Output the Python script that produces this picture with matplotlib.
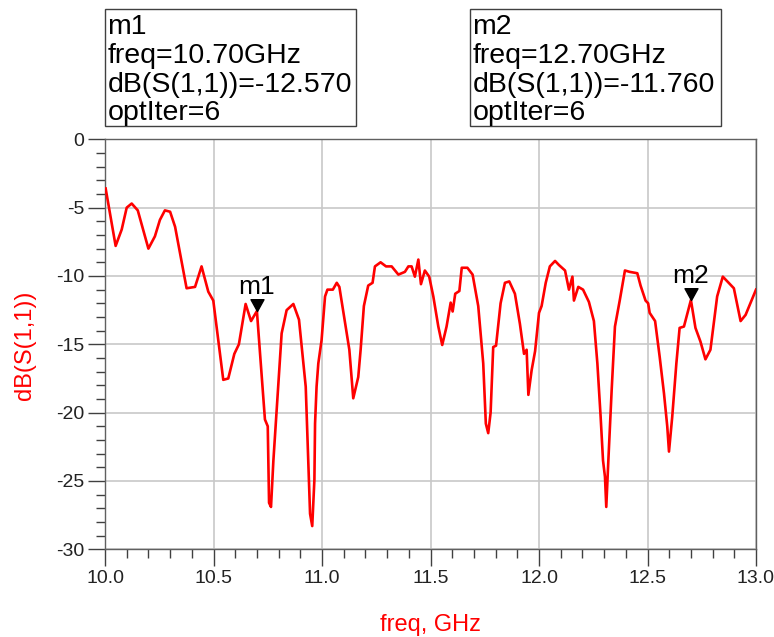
import matplotlib
matplotlib.use("Agg")
import matplotlib.pyplot as plt
from matplotlib.patches import Rectangle
from matplotlib.path import Path
from matplotlib.ticker import MultipleLocator

plt.rcParams['font.family'] = ['Liberation Sans', 'DejaVu Sans']

# ------------------------------
# Data
# ------------------------------
freq = [10.003, 10.049, 10.077, 10.100, 10.123, 10.151, 10.200, 10.230, 10.253, 10.276,
        10.300, 10.323, 10.376, 10.415, 10.445, 10.476, 10.499, 10.545, 10.568, 10.596,
        10.617, 10.648, 10.673, 10.700, 10.737, 10.750, 10.756, 10.765, 10.776, 10.814,
        10.837, 10.868, 10.894, 10.925, 10.945, 10.955, 10.965, 10.968, 10.975, 10.983,
        10.998, 11.014, 11.025, 11.050, 11.068, 11.080, 11.098, 11.126, 11.144, 11.167,
        11.178, 11.193, 11.213, 11.233, 11.244, 11.270, 11.295, 11.321, 11.352, 11.382,
        11.398, 11.413, 11.428, 11.444, 11.456, 11.474, 11.494, 11.513, 11.536, 11.554,
        11.574, 11.593, 11.602, 11.614, 11.633, 11.644, 11.670, 11.694, 11.720, 11.743,
        11.755, 11.766, 11.777, 11.789, 11.802, 11.823, 11.843, 11.863, 11.889, 11.912,
        11.931, 11.943, 11.951, 11.966, 11.982, 12.000, 12.012, 12.031, 12.050, 12.074,
        12.092, 12.120, 12.138, 12.154, 12.161, 12.181, 12.203, 12.230, 12.253, 12.269,
        12.284, 12.295, 12.304, 12.310, 12.319, 12.335, 12.350, 12.372, 12.396, 12.418,
        12.453, 12.468, 12.491, 12.503, 12.510, 12.535, 12.556, 12.576, 12.591, 12.599,
        12.614, 12.633, 12.648, 12.668, 12.700, 12.721, 12.744, 12.767, 12.790, 12.821,
        12.847, 12.898, 12.929, 12.952, 13.000]
s11_db = [-3.6, -7.8, -6.6, -5.0, -4.7, -5.2, -8.0, -7.1, -5.9, -5.2,
          -5.3, -6.4, -10.9, -10.8, -9.3, -11.15, -11.8, -17.6, -17.5, -15.7,
          -15.0, -12.05, -13.3, -12.57, -20.5, -21.0, -26.6, -26.9, -23.5, -14.2,
          -12.5, -12.05, -13.2, -18.1, -27.4, -28.3, -24.9, -20.8, -18.1, -16.4,
          -14.7, -11.5, -11.0, -11.0, -10.5, -10.8, -12.6, -15.4, -18.95, -17.4,
          -15.4, -12.2, -10.7, -10.5, -9.3, -9.0, -9.3, -9.3, -9.9, -9.7,
          -9.3, -9.3, -10.05, -8.8, -10.6, -9.6, -10.05, -11.5, -13.7, -15.05,
          -13.7, -11.95, -12.6, -11.3, -11.1, -9.4, -9.4, -9.9, -12.2, -16.4,
          -20.8, -21.5, -20.0, -15.2, -15.1, -12.0, -10.5, -10.4, -11.3, -13.5,
          -15.7, -15.4, -18.7, -16.9, -15.5, -12.7, -12.2, -10.5, -9.3, -8.9,
          -9.2, -9.6, -11.0, -10.05, -11.8, -10.8, -11.0, -11.9, -13.3, -16.4,
          -20.3, -23.5, -24.7, -26.9, -23.7, -18.3, -13.7, -11.8, -9.6, -9.7,
          -9.8, -10.7, -11.8, -12.0, -12.7, -13.3, -15.9, -18.6, -21.0, -22.85,
          -20.3, -16.4, -13.8, -13.7, -11.76, -13.8, -14.8, -16.1, -15.4, -11.5,
          -10.05, -10.9, -13.3, -12.85, -11.0]

marker_names = ["m1", "m2"]
marker_freq = [10.70, 12.70]
marker_db = [-12.57, -11.76]
marker_iter = [6, 6]

W, H = 774, 637
fig = plt.figure(figsize=(W / 100, H / 100), dpi=100)


def fx(px):
    return px / W


def fy(py):
    return 1 - py / H


ax = fig.add_axes([fx(105), fy(549.3), (756 - 105) / W, (549.3 - 139.3) / H])
ax.plot(freq, s11_db, color="#ff0000", lw=1.9, zorder=3, solid_joinstyle="round")

ax.set_xlim(10.0, 13.0)
ax.set_ylim(-30, 0)
ax.xaxis.set_major_locator(MultipleLocator(0.5))
ax.xaxis.set_minor_locator(MultipleLocator(0.1))
ax.yaxis.set_major_locator(MultipleLocator(5))
ax.yaxis.set_minor_locator(MultipleLocator(1))
ax.xaxis.set_major_formatter(plt.FormatStrFormatter("%.1f"))
ax.yaxis.set_major_formatter(plt.FormatStrFormatter("%d"))

ax.tick_params(which="major", direction="out", length=12, width=1, color="#404040",
               labelsize=14, labelcolor="#222222")
ax.tick_params(which="minor", direction="out", length=6.5, width=1, color="#404040")
ax.tick_params(axis="x", pad=3)
ax.tick_params(axis="y", pad=3)
ax.grid(True, which="major", color="#c8c8c8", lw=1.2)
ax.set_axisbelow(True)
for sp in ax.spines.values():
    sp.set_color("#606060")
    sp.set_linewidth(1)

# x / y labels in red
fig.text(fx(430), fy(625), "freq, GHz", color="#ff0000", fontsize=17,
         ha="center", va="center")
fig.text(fx(25), fy(345), "dB(S(1,1))", color="#ff0000", fontsize=17,
         ha="center", va="center", rotation=90)

# marker triangles with tip on the curve
tri = Path([(-1.1, 2), (1.1, 2), (0, 0), (-1.1, 2)],
           [Path.MOVETO, Path.LINETO, Path.LINETO, Path.CLOSEPOLY])
for name, mf, md in zip(marker_names, marker_freq, marker_db):
    ax.plot([mf], [md], marker=tri, markersize=17, color="black", zorder=5)
    ax.annotate(name, (mf, md), xytext=(0, 12.5), textcoords="offset points",
                ha="center", va="baseline", fontsize=19, color="black", zorder=6)

# readout boxes above the plot
box_left = [105, 470]
for name, mf, md, it, bx in zip(marker_names, marker_freq, marker_db, marker_iter, box_left):
    fig.patches.append(Rectangle((fx(bx), fy(126)), 251 / W, 117 / H, transform=fig.transFigure,
                                 fill=False, edgecolor="#404040", lw=1))
    lines = [name, f"freq={mf:.2f}GHz", f"dB(S(1,1))={md:.3f}", f"optIter={it}"]
    for line, base in zip(lines, [34, 63, 92, 120]):
        fig.text(fx(bx + 2.5), fy(base), line, fontsize=20.5, ha="left", va="baseline",
                 color="black")

fig.savefig("out.png", dpi=100)
